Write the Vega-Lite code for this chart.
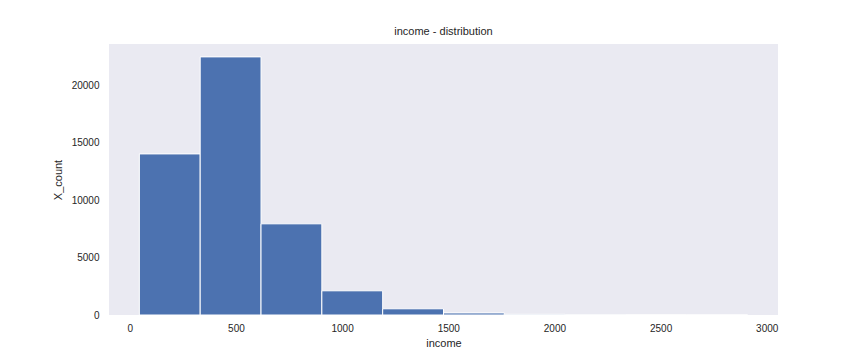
{
  "$schema": "https://vega.github.io/schema/vega-lite/v6.json",
  "width": 669,
  "height": 271,
  "autosize": {"type": "none"},
  "padding": {"left": 109, "top": 44, "right": 86, "bottom": 45},
  "background": "white",
  "config": {
    "font": "Liberation Sans",
    "view": {"fill": "#EAEAF2", "stroke": null},
    "axis": {"grid": false, "ticks": false, "domain": false, "labelColor": "#262626", "titleColor": "#262626", "labelFontSize": 10, "titleFontSize": 11, "titleFontWeight": "normal", "labelFont": "Liberation Sans", "titleFont": "Liberation Sans"}
  },
  "title": {"text": "income - distribution", "fontSize": 11, "fontWeight": "normal", "color": "#262626", "offset": 7, "font": "Liberation Sans"},
  "data": {
    "values": [
      {"bin_start": 45, "bin_end": 331.5, "count": 14010},
      {"bin_start": 331.5, "bin_end": 618, "count": 22450},
      {"bin_start": 618, "bin_end": 904.5, "count": 7930},
      {"bin_start": 904.5, "bin_end": 1191, "count": 2105},
      {"bin_start": 1191, "bin_end": 1477.5, "count": 540},
      {"bin_start": 1477.5, "bin_end": 1764, "count": 180},
      {"bin_start": 1764, "bin_end": 2050.5, "count": 60},
      {"bin_start": 2050.5, "bin_end": 2337, "count": 22},
      {"bin_start": 2337, "bin_end": 2623.5, "count": 10},
      {"bin_start": 2623.5, "bin_end": 2910, "count": 5}
    ]
  },
  "mark": {"type": "bar", "color": "#4C72B0", "stroke": "white", "strokeWidth": 1},
  "encoding": {
    "x": {"field": "bin_start", "type": "quantitative", "title": "income", "scale": {"domain": [-98, 3053], "nice": false, "zero": false}, "axis": {"values": [0, 500, 1000, 1500, 2000, 2500, 3000], "format": "d", "labelPadding": 8, "titlePadding": 4}},
    "x2": {"field": "bin_end"},
    "y": {"field": "count", "type": "quantitative", "title": "X_count", "scale": {"domain": [0, 23570], "nice": false}, "axis": {"values": [0, 5000, 10000, 15000, 20000], "format": "d", "labelPadding": 10, "titlePadding": 8}},
    "y2": {"datum": 0}
  }
}
